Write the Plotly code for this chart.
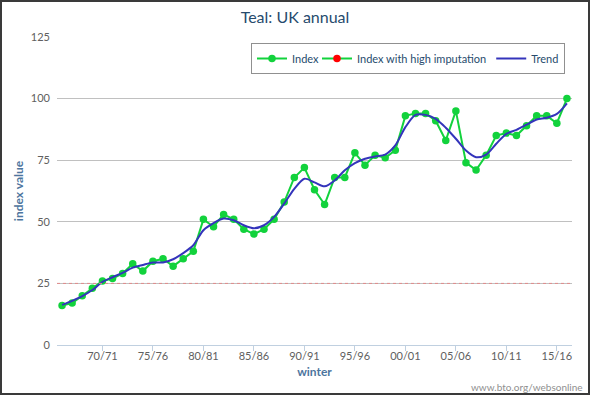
import plotly.graph_objects as go

# ---------------- data ----------------
winters = [
    "66/67", "67/68", "68/69", "69/70", "70/71", "71/72", "72/73", "73/74", "74/75", "75/76",
    "76/77", "77/78", "78/79", "79/80", "80/81", "81/82", "82/83", "83/84", "84/85", "85/86",
    "86/87", "87/88", "88/89", "89/90", "90/91", "91/92", "92/93", "93/94", "94/95", "95/96",
    "96/97", "97/98", "98/99", "99/00", "00/01", "01/02", "02/03", "03/04", "04/05", "05/06",
    "06/07", "07/08", "08/09", "09/10", "10/11", "11/12", "12/13", "13/14", "14/15", "15/16",
    "16/17",
]
index_values = [
    16, 17, 20, 23, 26, 27, 29, 33, 30, 34,
    35, 32, 35, 38, 51, 48, 53, 51, 47, 45,
    47, 51, 58, 68, 72, 63, 57, 68, 68, 78,
    73, 77, 76, 79, 93, 94, 94, 91, 83, 95,
    74, 71, 77, 85, 86, 85, 89, 93, 93, 90,
    100,
]
high_imputation = [None] * len(winters)
trend_values = [
    16.3, 17.9, 19.8, 22.3, 25.6, 27.5, 29.3, 31.4, 32.5, 33.5,
    33.5, 34.8, 37.3, 40.5, 46.6, 49.5, 51.3, 50.6, 48.6, 47.4,
    48.6, 52.0, 57.4, 63.4, 67.5, 66.0, 64.4, 66.8, 70.9, 73.8,
    75.6, 76.5, 77.3, 81.0, 88.4, 93.4, 93.4, 91.8, 88.2, 83.7,
    78.9, 76.2, 77.3, 81.7, 85.7, 87.3, 89.4, 91.5, 92.2, 93.8,
    98.1,
]
x_tick_labels = ["70/71", "75/76", "80/81", "85/86", "90/91", "95/96",
                 "00/01", "05/06", "10/11", "15/16"]
y_tick_values = [0, 25, 50, 75, 100, 125]
reference_level = 25

# ---------------- layout constants ----------------
W, H = 590, 395
ML, MR, MT, MB = 57, 18, 37, 50
PW, PH = W - ML - MR, H - MT - MB
FONT = "Lato"
TITLE_COL = "#274b6d"
AXIS_TITLE_COL = "#4d759e"
LABEL_COL = "#606060"
GREEN = "#12d23c"
BLUE = "#3434bb"


def px_x(p):
    return (p - ML) / PW


def px_y(p):
    return (H - MB - p) / PH


fig = go.Figure()
fig.add_trace(go.Scatter(
    x=winters, y=index_values, name="Index", mode="lines+markers",
    line=dict(color=GREEN, width=2), marker=dict(color=GREEN, size=7.5),
    legendwidth=20,
))
fig.add_trace(go.Scatter(
    x=winters, y=high_imputation, name="Index with high imputation",
    mode="lines+markers",
    line=dict(color=GREEN, width=2), marker=dict(color="#ff0000", size=7.5),
))
fig.add_trace(go.Scatter(
    x=winters, y=trend_values, name="Trend", mode="lines",
    line=dict(color=BLUE, width=2, shape="spline", smoothing=0.8),
))

fig.update_layout(
    width=W, height=H,
    margin=dict(l=ML, r=MR, t=MT, b=MB, pad=0),
    paper_bgcolor="white", plot_bgcolor="white",
    font=dict(family=FONT, size=11, color=LABEL_COL),
    showlegend=True,
    title=dict(text="Teal: UK annual", x=0.5, xanchor="center",
               y=1 - 17 / H, yanchor="middle",
               font=dict(family=FONT, size=16, color=TITLE_COL)),
    legend=dict(
        orientation="h", x=px_x(565), xanchor="right", y=px_y(43), yanchor="top",
        bgcolor="white", bordercolor="#909090", borderwidth=1,
        font=dict(family=FONT, size=11, color=TITLE_COL),
        itemwidth=30, tracegroupgap=0,
    ),
    xaxis=dict(
        type="category", range=[-0.5, len(winters) - 0.5],
        tickmode="array", tickvals=x_tick_labels, ticktext=x_tick_labels,
        ticks="outside", ticklen=5, tickcolor="#c0d0e0", tickwidth=1,
        showline=True, linecolor="#c0d0e0", linewidth=1,
        showgrid=False, zeroline=False,
        ticklabelstandoff=-4,
        tickfont=dict(family=FONT, size=11, color=LABEL_COL),
        title=dict(text="<b>winter</b>", standoff=6,
                   font=dict(family=FONT, size=12, color=AXIS_TITLE_COL)),
        fixedrange=True, automargin=False,
    ),
    yaxis=dict(
        range=[0, 125], tickmode="array", tickvals=y_tick_values,
        showgrid=True, gridcolor="#c0c0c0", gridwidth=1,
        zeroline=False, showline=False, ticks="",
        ticklabelstandoff=6,
        tickfont=dict(family=FONT, size=11, color=LABEL_COL),
        title=dict(text="<b>index value</b>", standoff=4,
                   font=dict(family=FONT, size=12, color=AXIS_TITLE_COL)),
        fixedrange=True, automargin=False,
    ),
)

# reference line (red dotted) at the 25 level
fig.add_shape(type="line", xref="paper", x0=0, x1=1, yref="y",
              y0=reference_level, y1=reference_level,
              line=dict(color="#e08a8a", width=1, dash="dot"),
              layer="above")

# outer chart frame
fig.add_shape(type="rect", xref="paper", yref="paper",
              x0=px_x(1), x1=px_x(W - 1), y0=px_y(H - 1), y1=px_y(1),
              line=dict(color="#3a3a3a", width=2), fillcolor="rgba(0,0,0,0)",
              layer="above")

# credit
fig.add_annotation(text="www.bto.org/websonline", xref="paper", yref="paper",
                   x=px_x(585), xanchor="right", y=px_y(387), yanchor="middle",
                   showarrow=False, font=dict(family=FONT, size=10, color="#909090"))

fig.write_html("out.html",
               config={"displayModeBar": False},
               post_script="document.body.style.margin='0';document.body.style.overflow='hidden';")
